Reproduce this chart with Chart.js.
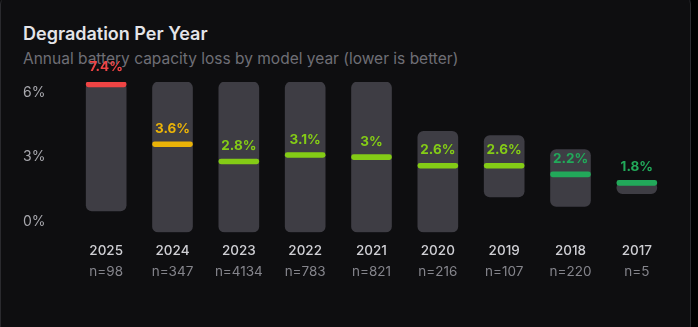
<!DOCTYPE html>
<html>
<head>
<meta charset="utf-8">
<script src="https://cdn.jsdelivr.net/npm/chart.js@4.4.1/dist/chart.umd.min.js"></script>
<style>
  html, body { margin: 0; padding: 0; background: #000; }
  .card {
    position: absolute; left: 0; top: -6px; width: 689px; height: 340px;
    background: #0e0e10; border: 1px solid #2a2a2e; border-radius: 10px;
    font-family: Inter, "Noto Sans", sans-serif; overflow: hidden;
  }
  .title {
    position: absolute; left: 22px; top: 28px; margin: 0;
    font-size: 18px; line-height: 22px; font-weight: 600; color: #e4e4e8;
  }
  .subtitle {
    position: absolute; left: 22px; top: 55px; margin: 0;
    font-size: 15.5px; line-height: 18px; color: #6f6f76;
  }
  .chart-box { position: absolute; left: 0; top: 46px; width: 691px; height: 287px; }
</style>
</head>
<body>
<div class="card">
  <h3 class="title">Degradation Per Year</h3>
  <p class="subtitle">Annual battery capacity loss by model year (lower is better)</p>
  <div class="chart-box"><canvas id="degChart"></canvas></div>
</div>
<script>
const years = ['2025', '2024', '2023', '2022', '2021', '2020', '2019', '2018', '2017'];
const counts = [98, 347, 4134, 783, 821, 216, 107, 220, 5];
// median yearly loss (%)
const medians = [7.4, 3.6, 2.8, 3.1, 3.0, 2.6, 2.6, 2.2, 1.8];
// spread of yearly loss per model year (%)
const rangeLow = [0.5, -0.5, -0.5, -0.5, -0.5, -0.5, 1.15, 0.7, 1.3];
const rangeHigh = [6.5, 6.5, 6.5, 6.5, 6.5, 4.2, 4.0, 3.35, 1.85];
const yTicks = [0, 3, 6];

const Y_MIN = -0.5;
const Y_MAX = 6.5;
const MARK = 0.115;

function lossColor(v) {
  if (v >= 5) return '#ef4444';
  if (v >= 3.5) return '#eab308';
  if (v >= 2.4) return '#84cc16';
  return '#22a95a';
}

const markerColors = medians.map(lossColor);
const markerBars = medians.map(v => {
  const c = Math.min(v, Y_MAX - MARK);
  return [c - MARK, c + MARK];
});

const medianLabels = {
  id: 'medianLabels',
  afterDatasetsDraw(chart) {
    const { ctx } = chart;
    const meta = chart.getDatasetMeta(1);
    ctx.save();
    ctx.font = '700 13.5px Inter, "Noto Sans", sans-serif';
    ctx.textAlign = 'center';
    ctx.textBaseline = 'middle';
    meta.data.forEach((bar, i) => {
      const mid = (bar.y + bar.base) / 2;
      ctx.fillStyle = markerColors[i];
      ctx.fillText(medians[i] + '%', bar.x, mid - (i === 0 ? 18 : 15.5));
    });
    ctx.restore();
  }
};

// keep the year row and the count row tight together
const tightHeight = pad => scale => { scale.height = pad + 16.2; };

new Chart(document.getElementById('degChart'), {
  type: 'bar',
  data: {
    labels: years,
    datasets: [{
      data: years.map((y, i) => [rangeLow[i], rangeHigh[i]]),
      backgroundColor: '#3e3d44',
      borderRadius: 6,
      borderSkipped: false,
      barThickness: 40,
      grouped: false,
      order: 2
    }, {
      data: markerBars,
      backgroundColor: markerColors,
      borderRadius: 3,
      borderSkipped: false,
      barThickness: 40,
      grouped: false,
      order: 1
    }]
  },
  options: {
    responsive: true,
    maintainAspectRatio: false,
    animation: false,
    layout: { padding: { left: 22, right: 22, top: 41, bottom: 48 } },
    plugins: {
      legend: { display: false },
      tooltip: { enabled: false }
    },
    scales: {
      x: {
        grid: { display: false, drawTicks: false },
        border: { display: false },
        afterFit: tightHeight(10.8),
        ticks: {
          color: '#cfcfd4',
          padding: 10.8,
          font: { family: 'Inter', size: 13.5, weight: '500' }
        }
      },
      xN: {
        type: 'category',
        position: 'bottom',
        labels: counts.map(n => 'n=' + n),
        offset: true,
        grid: { display: false, drawTicks: false },
        border: { display: false },
        afterFit: tightHeight(4.5),
        ticks: {
          color: '#85858c',
          padding: 4.5,
          font: { family: 'Inter', size: 13.5 }
        }
      },
      y: {
        min: Y_MIN,
        max: Y_MAX,
        grid: { display: false, drawTicks: false },
        border: { display: false },
        afterBuildTicks: scale => { scale.ticks = yTicks.map(v => ({ value: v })); },
        afterFit: scale => { scale.width = 50; },
        ticks: {
          color: '#a8a8ae',
          crossAlign: 'far',
          padding: 0,
          font: { family: 'Inter', size: 14 },
          callback: v => v + '%'
        }
      }
    }
  },
  plugins: [medianLabels]
});
</script>
</body>
</html>
